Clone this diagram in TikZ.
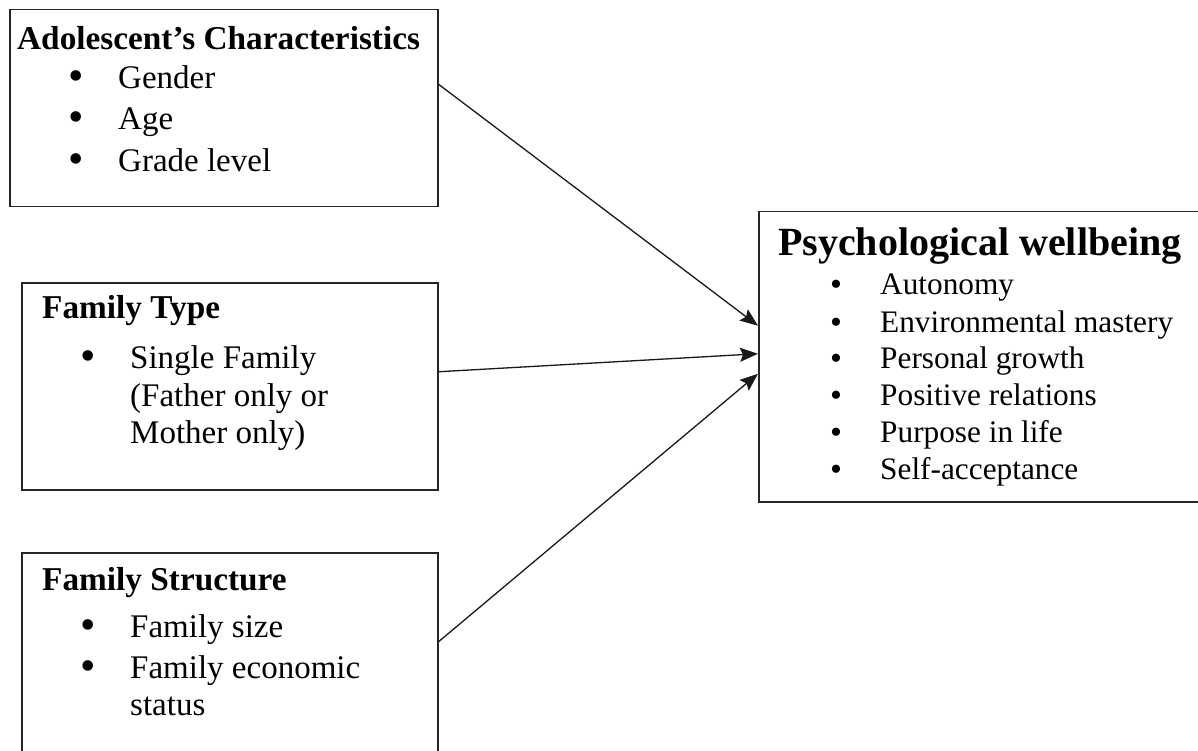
\documentclass[tikz,border=0pt]{standalone}
\usepackage{fontspec}
\setmainfont{Liberation Serif}
\usetikzlibrary{arrows.meta}
\tikzset{
  box/.style={draw=black!85, line width=1.5pt, inner sep=0pt, anchor=north west},
  ttl/.style={anchor=base west, inner sep=0pt, font=\fontsize{33.3}{38}\selectfont\bfseries},
  ttlbig/.style={anchor=base west, inner sep=0pt, font=\fontsize{40}{44}\selectfont\bfseries},
  itm/.style={anchor=base west, inner sep=0pt, font=\fontsize{33}{38}\selectfont},
  itms/.style={anchor=base west, inner sep=0pt, font=\fontsize{31.3}{36}\selectfont},
  bul/.style={anchor=base, inner sep=0pt, font=\fontsize{44}{38}\selectfont},
  buls/.style={anchor=base, inner sep=0pt, font=\fontsize{34}{36}\selectfont},
  arr/.style={draw=black!90, line width=1.3pt, -{Stealth[length=18pt,width=14pt,inset=3pt]}}
}
\begin{document}
\begin{tikzpicture}[x=1pt,y=-1pt]
\clip (0,0) rectangle (1198,751);
\fill[white] (0,0) rectangle (1198,751);
% boxes
\node[box, minimum width=428pt, minimum height=197pt] (b1) at (9,9) {};
\node[box, minimum width=416pt, minimum height=207pt] (b2) at (21,282) {};
\node[box, minimum width=416pt, minimum height=206pt] (b3) at (21,552) {};
\node[box, minimum width=450pt, minimum height=290pt] (w) at (758,211) {};
% box 1 text
\node[ttl] (t1) at (17,50) {Adolescent’s Characteristics};
\node[bul] (b1a) at (76,91) {•};
\node[itm] (i1a) at (118,89) {Gender};
\node[bul] (b1b) at (76,132) {•};
\node[itm] (i1b) at (118,130) {Age};
\node[bul] (b1c) at (76,174) {•};
\node[itm] (i1c) at (118,172) {Grade level};
% box 2 text
\node[ttl] (t2) at (42,318) {Family Type};
\node[bul] (b2a) at (88,370) {•};
\node[itm] (i2a) at (130,368) {Single Family};
\node[itm] (i2b) at (130,406) {(Father only or};
\node[itm] (i2c) at (130,443) {Mother only)};
% box 3 text
\node[ttl] (t3) at (42,590) {Family Structure};
\node[bul] (b3a) at (88,639) {•};
\node[itm] (i3a) at (130,637) {Family size};
\node[bul] (b3b) at (88,680) {•};
\node[itm] (i3b) at (130,678) {Family economic};
\node[itm] (i3c) at (130,715) {status};
% box 4 text
\node[ttlbig] (t4) at (778,255) {Psychological wellbeing};
\node[buls] (b4a) at (836,295) {•};
\node[itms] (i4a) at (880,294) {Autonomy};
\node[buls] (b4b) at (836,333) {•};
\node[itms] (i4b) at (880,332) {Environmental mastery};
\node[buls] (b4c) at (836,369) {•};
\node[itms] (i4c) at (880,368) {Personal growth};
\node[buls] (b4d) at (836,406) {•};
\node[itms] (i4d) at (880,405) {Positive relations};
\node[buls] (b4e) at (836,443) {•};
\node[itms] (i4e) at (880,442) {Purpose in life};
\node[buls] (b4f) at (836,480) {•};
\node[itms] (i4f) at (880,479) {Self-acceptance};
% arrows
\draw[arr] ([yshift=24pt]b1.east) -- ([yshift=31pt]w.west);
\draw[arr] ([yshift=14.5pt]b2.east) -- ([yshift=3pt]w.west);
\draw[arr] ([yshift=14pt]b3.east) -- ([yshift=-17pt]w.west);
\end{tikzpicture}
\end{document}
